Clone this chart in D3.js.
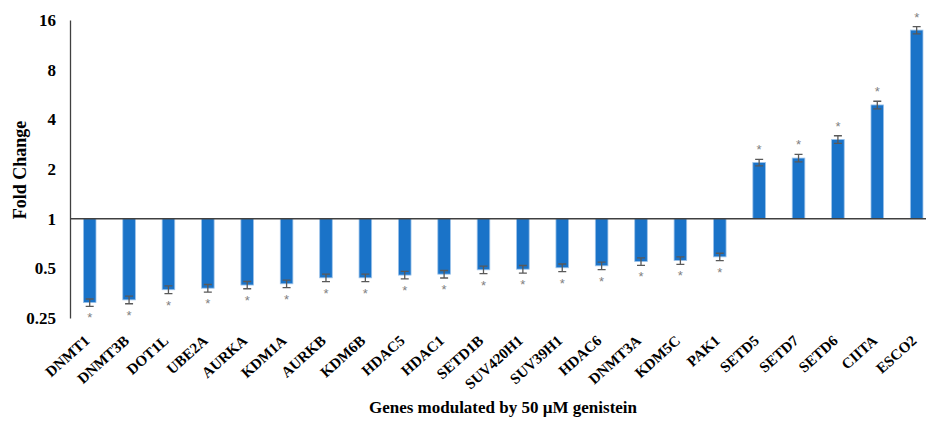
<!DOCTYPE html>
<html>
<head>
<meta charset="utf-8">
<script src="https://cdn.jsdelivr.net/npm/d3@7"></script>
<style>
  body { margin: 0; background: #fff; }
  svg { display: block; }
</style>
</head>
<body>
<div id="chart"></div>
<script>
const genes = ["DNMT1", "DNMT3B", "DOT1L", "UBE2A", "AURKA", "KDM1A", "AURKB", "KDM6B", "HDAC5", "HDAC1",
  "SETD1B", "SUV420H1", "SUV39H1", "HDAC6", "DNMT3A", "KDM5C", "PAK1", "SETD5", "SETD7", "SETD6", "CIITA", "ESCO2"]
const foldChange = [0.31, 0.322, 0.371, 0.379, 0.396, 0.403, 0.438, 0.438, 0.455, 0.461,
  0.49, 0.494, 0.504, 0.518, 0.55, 0.558, 0.587, 2.19, 2.33, 3.02, 4.89, 13.9]
const stdErr = [0.016, 0.017, 0.02, 0.02, 0.02, 0.021, 0.023, 0.023, 0.024, 0.024,
  0.026, 0.026, 0.027, 0.027, 0.029, 0.029, 0.03, 0.1, 0.12, 0.16, 0.26, 0.7]
const yTicks = [0.25, 0.5, 1, 2, 4, 8, 16]

const W = 926, H = 422
const MARGIN = { TOP: 20, LEFT: 70, BOTTOM: 104 }
const SERIF = "Liberation Serif, Times New Roman, serif"
const data = genes.map((g, i) => ({ gene: g, value: foldChange[i], err: stdErr[i] }))

const svg = d3.select("#chart").append("svg")
  .attr("width", W)
  .attr("height", H)

const x = d3.scaleBand()
  .domain(genes)
  .range([MARGIN.LEFT, MARGIN.LEFT + 22 * 39.38])
  .paddingInner(0.68)
  .paddingOuter(0.34)

const y = d3.scaleLog()
  .base(2)
  .domain([0.25, 16])
  .range([H - MARGIN.BOTTOM, MARGIN.TOP])

// bars from the 1-line
svg.append("g").selectAll("rect")
  .data(data)
  .enter().append("rect")
    .attr("x", d => x(d.gene))
    .attr("width", x.bandwidth())
    .attr("y", d => Math.min(y(d.value), y(1)))
    .attr("height", d => Math.abs(y(d.value) - y(1)))
    .attr("fill", "#1a73c8")
    .attr("stroke", "#9cc3ea")
    .attr("stroke-width", 0.8)

// error bars
svg.append("g")
  .attr("stroke", "#595959")
  .attr("stroke-width", 1.3)
  .attr("fill", "none")
  .selectAll("path")
  .data(data)
  .enter().append("path")
    .attr("d", d => {
      const cx = x(d.gene) + x.bandwidth() / 2
      const y0 = y(d.value - d.err), y1 = y(d.value + d.err)
      return `M${cx - 4},${y0}H${cx + 4}M${cx},${y0}V${y1}M${cx - 4},${y1}H${cx + 4}`
    })

// significance stars
svg.append("g").selectAll("text")
  .data(data)
  .enter().append("text")
    .attr("x", d => x(d.gene) + x.bandwidth() / 2)
    .attr("y", d => d.value < 1 ? y(d.value - d.err) + 16 : y(d.value + d.err) - 5)
    .attr("text-anchor", "middle")
    .attr("font-family", "Liberation Sans, Arial, sans-serif")
    .attr("font-size", "13px")
    .attr("fill", "#7f7f7f")
    .text("*")

// y axis
const yAxis = svg.append("g")
  .attr("transform", `translate(${MARGIN.LEFT},0)`)
  .call(d3.axisLeft(y).tickValues(yTicks).tickFormat(d => d).tickSize(0).tickPadding(14))
yAxis.select(".domain").attr("stroke", "#404040").attr("stroke-width", 1.3)
yAxis.selectAll("text")
  .attr("font-family", SERIF)
  .attr("font-weight", "bold")
  .attr("font-size", "17px")
  .attr("fill", "#000")

// horizontal line at fold change 1
svg.append("line")
  .attr("x1", MARGIN.LEFT)
  .attr("x2", W)
  .attr("y1", y(1))
  .attr("y2", y(1))
  .attr("stroke", "#404040")
  .attr("stroke-width", 1.5)

// gene labels
svg.append("g").selectAll("text")
  .data(genes)
  .enter().append("text")
    .attr("transform", d => `translate(${x(d) + x.bandwidth() / 2 + 1}, 342) rotate(-42)`)
    .attr("text-anchor", "end")
    .attr("font-family", SERIF)
    .attr("font-weight", "bold")
    .attr("font-size", "15px")
    .text(d => d)

svg.append("text")
  .attr("x", 503)
  .attr("y", 413)
  .attr("text-anchor", "middle")
  .attr("font-family", SERIF)
  .attr("font-weight", "bold")
  .attr("font-size", "17px")
  .text("Genes modulated by 50 µM genistein")

svg.append("text")
  .attr("transform", "translate(26, 170) rotate(-90)")
  .attr("text-anchor", "middle")
  .attr("font-family", SERIF)
  .attr("font-weight", "bold")
  .attr("font-size", "18px")
  .text("Fold Change")
</script>
</body>
</html>
